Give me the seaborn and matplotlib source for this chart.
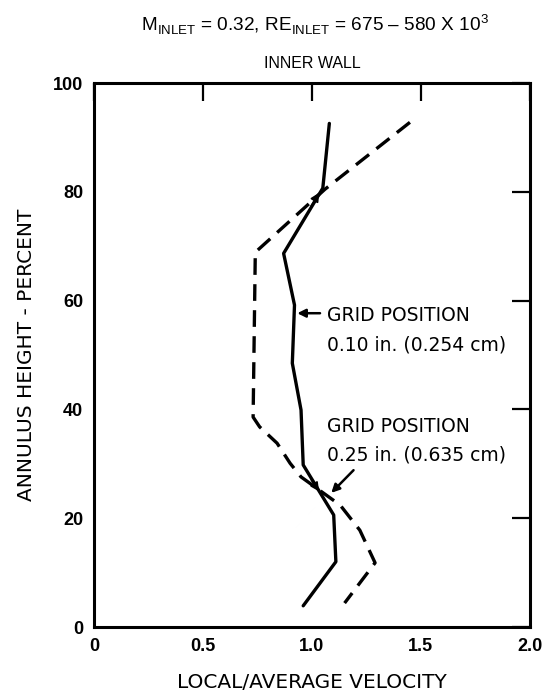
import pandas as pd
import matplotlib.pyplot as plt
import seaborn as sns

# grid position 0.10 in. (solid)
vel_010 = [1.08, 1.05, 0.87, 0.92, 0.91, 0.95, 0.96, 1.10, 1.11, 0.96]
hgt_010 = [92.6, 80.7, 68.7, 59.2, 48.5, 39.9, 29.8, 20.6, 12.0, 3.9]

# grid position 0.25 in. (dashed)
vel_025 = [1.45, 1.06, 0.74, 0.73, 0.76, 0.84, 0.90, 0.95, 1.13, 1.22, 1.29, 1.15]
hgt_025 = [92.8, 80.5, 68.9, 38.6, 36.8, 33.8, 30.1, 27.6, 22.4, 17.8, 11.8, 4.4]

x_ticks = [0, 0.5, 1.0, 1.5, 2.0]
x_labels = ["0", "0.5", "1.0", "1.5", "2.0"]
y_ticks = [0, 20, 40, 60, 80, 100]


def main():
    sns.set_theme(style="white")
    plt.rcParams['font.family'] = ['DejaVu Sans']
    plt.rcParams['text.color'] = 'black'
    plt.rcParams['axes.labelcolor'] = 'black'
    plt.rcParams['mathtext.fontset'] = 'custom'
    plt.rcParams['mathtext.rm'] = 'Liberation Sans'
    plt.rcParams['mathtext.sf'] = 'Liberation Sans'

    df1 = pd.DataFrame({"v": vel_010, "h": hgt_010})
    df2 = pd.DataFrame({"v": vel_025, "h": hgt_025})

    fig = plt.figure(figsize=(5.57, 6.99), dpi=100)
    ax = fig.add_axes([0.169, 0.103, 0.782, 0.778])

    sns.lineplot(x="v", y="h", data=df1, sort=False, estimator=None,
                 color="black", linewidth=2.4, ax=ax)
    sns.lineplot(x="v", y="h", data=df2, sort=False, estimator=None,
                 color="black", linewidth=2.4, linestyle=(0, (5, 2.8)), ax=ax)

    ax.set_xlim(0, 2.0)
    ax.set_ylim(0, 100)
    ax.set_xticks(x_ticks, x_labels)
    ax.set_yticks(y_ticks)
    ax.tick_params(direction="in", length=13, width=1.6, top=True, right=True,
                   labelsize=13, pad=8, colors="black")
    for lbl in ax.get_xticklabels() + ax.get_yticklabels():
        lbl.set_fontweight("bold")
        lbl.set_family("Liberation Sans")
    for s in ax.spines.values():
        s.set_linewidth(2.2)
        s.set_color("black")

    ax.set_xlabel("LOCAL/AVERAGE VELOCITY", fontsize=14.5, labelpad=13)
    ax.set_ylabel("ANNULUS HEIGHT - PERCENT", fontsize=14.5, labelpad=12)

    # annotations
    ax.text(1.07, 57.2, "GRID POSITION", fontsize=13.5, va="center")
    ax.text(1.07, 51.8, "0.10 in. (0.254 cm)", fontsize=13.5, va="center")
    ax.annotate("", xy=(0.92, 57.7), xytext=(1.05, 57.7),
                arrowprops=dict(arrowstyle="-|>", color="black", lw=1.8,
                                mutation_scale=12))
    ax.text(1.07, 36.8, "GRID POSITION", fontsize=13.5, va="center")
    ax.text(1.07, 31.6, "0.25 in. (0.635 cm)", fontsize=13.5, va="center")
    ax.annotate("", xy=(1.08, 24.3), xytext=(1.20, 29.2),
                arrowprops=dict(arrowstyle="-|>", color="black", lw=1.8,
                                mutation_scale=12))
    # small arrowheads along the curves
    ax.annotate("", xy=(1.04, 80.3), xytext=(0.99, 77.0),
                arrowprops=dict(arrowstyle="-|>", color="black", lw=1.2,
                                mutation_scale=13))
    ax.annotate("", xy=(1.04, 24.5), xytext=(0.99, 27.5),
                arrowprops=dict(arrowstyle="-|>", color="black", lw=1.2,
                                mutation_scale=13))

    fig.text(0.565, 0.965,
             r"M$_{\mathsf{INLET}}$ = 0.32, RE$_{\mathsf{INLET}}$ = 675 – 580 X 10$^{3}$",
             family="Liberation Sans", fontsize=13.7, ha="center", va="center")
    ax.set_title("INNER WALL", fontsize=11.5, pad=11, family="Liberation Sans")

    fig.savefig("out.png", dpi=100, facecolor="white")


if __name__ == "__main__":
    main()
